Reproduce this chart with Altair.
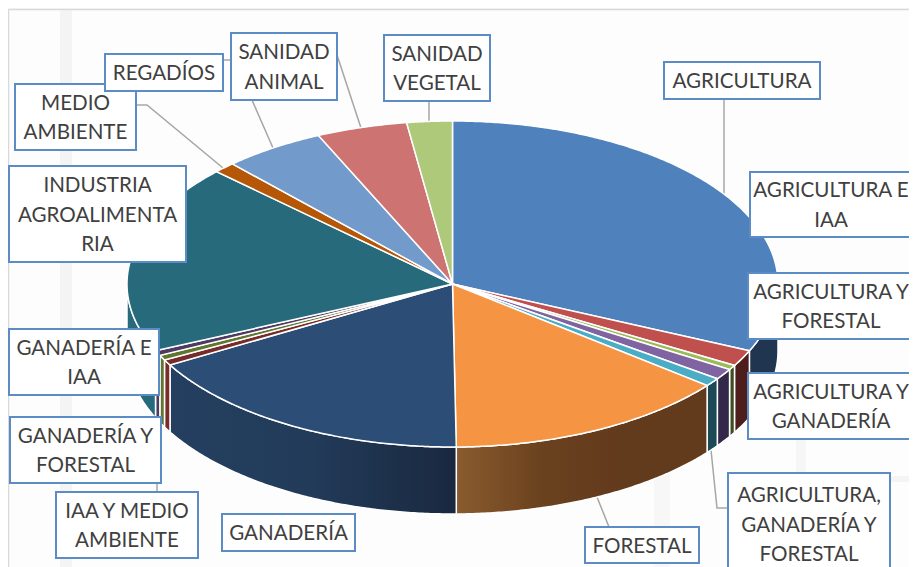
import math
import altair as alt
import pandas as pd

# ---------- data ----------
categories = ["AGRICULTURA", "AGRICULTURA E IAA", "AGRICULTURA Y FORESTAL", "AGRICULTURA Y GANADERÍA",
              "AGRICULTURA, GANADERÍA Y FORESTAL", "FORESTAL", "GANADERÍA", "GANADERÍA E IAA",
              "GANADERÍA Y FORESTAL", "IAA Y MEDIO AMBIENTE", "INDUSTRIA AGROALIMENTARIA",
              "MEDIO AMBIENTE", "REGADÍOS", "SANIDAD ANIMAL", "SANIDAD VEGETAL"]
shares = [31.7, 1.6, 0.47, 1.08, 0.83, 14.1, 16.9, 0.56, 0.5, 0.5, 18.8, 1.08, 5.06, 4.5, 2.25]
top_colors = ["#4F81BD", "#C0504D", "#9BBB59", "#8064A2", "#4BACC6", "#F59543", "#2C4D75", "#772C2A",
              "#5F7530", "#4D3B62", "#276A7C", "#B65708", "#729ACA", "#CD7371", "#AFC97A"]
wall_colors = [["#1F3550", "#1F3550"], ["#4E1E1C", "#4E1E1C"], ["#3F4E20", "#3F4E20"], ["#33284A", "#33284A"],
               ["#1C4A56", "#1C4A56"], ["#8A5B2E", "#6B421F", "#623A1C", "#623A1C"],
               ["#243F60", "#223B59", "#19283F"], ["#7A2C2A", "#7A2C2A"], ["#5F7530", "#5F7530"],
               ["#4D3B62", "#4D3B62"], ["#276A7C", "#276A7C"], ["#000000", "#000000"], ["#000000", "#000000"],
               ["#000000", "#000000"], ["#000000", "#000000"]]

# label boxes: left, right, top, bottom, text lines
boxes = [
    (664, 820, 62, 99, ["AGRICULTURA"]),
    (750, 925, 172, 237, ["AGRICULTURA E", "IAA"]),
    (748, 925, 273, 339, ["AGRICULTURA Y", "FORESTAL"]),
    (748, 925, 373, 439, ["AGRICULTURA Y", "GANADERÍA"]),
    (728, 890, 473, 575, ["AGRICULTURA,", "GANADERÍA Y", "FORESTAL"]),
    (585, 699, 527, 563, ["FORESTAL"]),
    (222, 355, 514, 551, ["GANADERÍA"]),
    (56, 198, 492, 558, ["IAA Y MEDIO", "AMBIENTE"]),
    (10, 161, 417, 483, ["GANADERÍA Y", "FORESTAL"]),
    (9, 159, 329, 395, ["GANADERÍA E", "IAA"]),
    (9, 186, 166, 262, ["INDUSTRIA", "AGROALIMENTA", "RIA"]),
    (15, 136, 84, 150, ["MEDIO", "AMBIENTE"]),
    (105, 223, 54, 91, ["REGADÍOS"]),
    (231, 337, 33, 100, ["SANIDAD", "ANIMAL"]),
    (384, 490, 35, 101, ["SANIDAD", "VEGETAL"]),
]
text_centers = [None, 831, 831, 831, None, None, None, None, None, None, None, None, None, None, None]

# leader lines
leaders = [
    [(724, 99), (724, 195)],
    [(429, 101), (429, 121)],
    [(337, 55), (361, 128)],
    [(223, 60), (252, 60), (252, 100), (273, 148)],
    [(136, 105), (147, 105), (223, 168)],
    [(597, 497), (609, 527)],
    [(711, 450), (717, 508), (728, 508)],
    [(157, 483), (157, 492)],
]

# faint watermark bands: left, right, top, bottom, colour
bands = [
    (60, 72, 0, 567, "#F4F4F4"),
    (654, 670, 470, 567, "#F7F7F7"),
    (796, 806, 440, 475, "#F6F6F6"),
    (840, 909, 476, 482, "#F4F4F4"),
    (8, 909, 8, 9, "#F8F8F8"),
]

# ---------- geometry ----------
CX, CY, RX, RY, DEPTH = 452.5, 284, 325.5, 163, 67
W, H = 901, 559
px = alt.Scale(domain=[8, 909], range=[0, W])
py = alt.Scale(domain=[8, 567], range=[0, H])
PROJ = dict(type="identity", scale=1, translate=[-8, -8])


def pt(t, dy=0):
    r = math.radians(t)
    return [CX + RX * math.sin(r), CY - RY * math.cos(r) + dy]


def arc(t0, t1, dy=0):
    n = max(2, int(abs(t1 - t0) * 2) + 2)
    return [pt(t0 + (t1 - t0) * i / (n - 1), dy) for i in range(n)]


def shape(ring, mark_kw):
    feature = {"type": "Feature", "properties": {},
               "geometry": {"type": "Polygon", "coordinates": [ring + [ring[0]]]}}
    return (alt.Chart(alt.Data(values=[feature]))
            .mark_geoshape(stroke="white", strokeWidth=1.5, **mark_kw)
            .project(**PROJ))


total = sum(shares)
edges = [0.0]
for s in shares:
    edges.append(edges[-1] + s / total * 360)

layers = []

# background bands
band_df = pd.DataFrame(bands, columns=["l", "r", "t", "b", "c"])
layers.append(alt.Chart(band_df).mark_rect().encode(
    x=alt.X("l:Q", scale=px, axis=None), x2="r:Q",
    y=alt.Y("t:Q", scale=py, axis=None), y2="b:Q",
    color=alt.Color("c:N", scale=None)))

# outer frame
frame = pd.DataFrame([{"a": 8.5, "b": 9.5, "c": 8.5, "d": 567}, {"a": 8.5, "b": 9.5, "c": 909, "d": 9.5}])
layers.append(alt.Chart(frame).mark_rule(color="#D9D9D9", strokeWidth=1.5).encode(
    x=alt.X("a:Q", scale=px, axis=None), y=alt.Y("b:Q", scale=py, axis=None), x2="c:Q", y2="d:Q"))

# leader lines
rows = []
for i, seg in enumerate(leaders):
    for j, (x, y) in enumerate(seg):
        rows.append({"x": x, "y": y, "g": i, "o": j})
layers.append(alt.Chart(pd.DataFrame(rows)).mark_line(color="#A6A6A6", strokeWidth=1.5).encode(
    x=alt.X("x:Q", scale=px, axis=None), y=alt.Y("y:Q", scale=py, axis=None),
    detail="g:N", order="o:Q"))

# walls (front half only)
for i in range(len(shares)):
    a, b = max(edges[i], 90), min(edges[i + 1], 270)
    if b <= a:
        continue
    ring = arc(a, b) + arc(b, a, DEPTH)
    stops = wall_colors[i]
    grad = alt.LinearGradient(
        gradient="linear", x1=0, x2=1, y1=0, y2=0,
        stops=[alt.GradientStop(color=c, offset=k / (len(stops) - 1)) for k, c in enumerate(stops)])
    layers.append(shape(ring, {"fill": grad}))

# top faces
for i in range(len(shares)):
    ring = [[CX, CY]] + arc(edges[i], edges[i + 1])
    layers.append(shape(ring, {"fill": top_colors[i]}))

# boxes
box_df = pd.DataFrame([{"l": b[0], "r": b[1], "t": b[2], "b": b[3]} for b in boxes])
layers.append(alt.Chart(box_df).mark_rect(fill="white", stroke="#5B8CC6", strokeWidth=2).encode(
    x=alt.X("l:Q", scale=px, axis=None), x2="r:Q",
    y=alt.Y("t:Q", scale=py, axis=None), y2="b:Q"))

# texts
txt = []
for k, b in enumerate(boxes):
    cx = text_centers[k] if text_centers[k] else (b[0] + b[1]) / 2
    cy = (b[2] + b[3]) / 2 + 1.5
    n = len(b[4])
    for j, line in enumerate(b[4]):
        txt.append({"x": cx, "y": cy + (j - (n - 1) / 2) * 29.7, "s": line})
layers.append(alt.Chart(pd.DataFrame(txt)).mark_text(
    font="Lato", fontSize=20.6, color="#404040", align="center", baseline="middle").encode(
    x=alt.X("x:Q", scale=px, axis=None), y=alt.Y("y:Q", scale=py, axis=None), text="s:N"))

chart = alt.layer(*layers).properties(
    width=W, height=H, padding=0, background="#FDFDFD",
    autosize=alt.AutoSizeParams(type="none")
).configure_view(stroke=None)

chart.save("out.html", embed_options={"renderer": "svg", "actions": False})
